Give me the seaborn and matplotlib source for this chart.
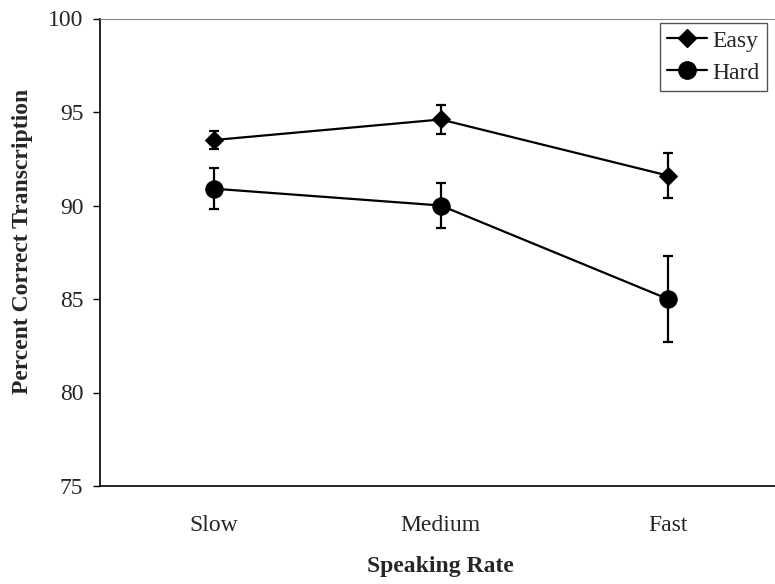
import matplotlib
matplotlib.use("Agg")
import matplotlib.pyplot as plt
from matplotlib.lines import Line2D
import seaborn as sns
import pandas as pd

# Speaking-rate categories and group means with error-bar half widths
rates = ["Slow", "Medium", "Fast"]
easy_mean = [93.5, 94.6, 91.6]
easy_err = [0.5, 0.8, 1.2]
hard_mean = [90.9, 90.0, 85.0]
hard_err = [1.1, 1.2, 2.3]
y_ticks = [75, 80, 85, 90, 95, 100]

sns.set_theme(style="white")
plt.rcParams["font.family"] = ["Liberation Serif", "DejaVu Serif"]

df = pd.DataFrame({
    "rate": rates * 2,
    "pos": list(range(len(rates))) * 2,
    "score": easy_mean + hard_mean,
    "err": easy_err + hard_err,
    "group": ["Easy"] * 3 + ["Hard"] * 3,
})

fig = plt.figure(figsize=(7.75, 5.84), dpi=100)
ax = fig.add_axes([100 / 775, 1 - 486 / 584, (781.5 - 100) / 775, (486 - 18.5) / 584])

markers = {"Easy": "D", "Hard": "o"}
msize = {"Easy": 9.5, "Hard": 12.5}
for name, sub in df.groupby("group", sort=False):
    sns.lineplot(data=sub, x="pos", y="score", color="black", linewidth=1.6,
                 marker=markers[name], markersize=msize[name],
                 markeredgecolor="black", markerfacecolor="black",
                 ax=ax, legend=False)
    ax.errorbar(sub["pos"], sub["score"], yerr=sub["err"], fmt="none",
                ecolor="black", elinewidth=1.6, capsize=3.5, capthick=1.6)

ax.set_xlim(-0.5, 2.5)
ax.set_ylim(75, 100)
ax.set_yticks(y_ticks)
ax.set_yticklabels([str(v) for v in y_ticks], fontsize=17)
ax.set_xticks(range(len(rates)))
ax.set_xticklabels(rates, fontsize=17)
ax.set_xticks([0.5, 1.5, 2.5], minor=True)
ax.tick_params(axis="x", which="major", length=0, pad=21)
ax.tick_params(axis="x", which="minor", length=5, width=1, color="black", direction="out")
ax.tick_params(axis="y", length=5, width=1, color="black", direction="out", left=True, pad=7)

ax.set_xlabel("Speaking Rate", fontsize=17, fontweight="bold", labelpad=14)
ax.set_ylabel("Percent Correct Transcription", fontsize=17, fontweight="bold")
ax.yaxis.set_label_coords(-0.099, 0.524)

for side in ["left", "bottom"]:
    ax.spines[side].set_color("black")
    ax.spines[side].set_linewidth(1.2)
ax.spines["top"].set_color("#888888")
ax.spines["top"].set_linestyle((0, (1.5, 1)))
ax.spines["top"].set_linewidth(0.8)
ax.spines["right"].set_visible(False)

handles = [
    Line2D([], [], color="black", lw=1.6, marker="D", markersize=9.5, label="Easy"),
    Line2D([], [], color="black", lw=1.6, marker="o", markersize=12.5, label="Hard"),
]
leg = fig.legend(handles=handles, loc="upper right", bbox_to_anchor=(767 / 775, 1 - 23 / 584),
                 fontsize=17, frameon=True, fancybox=False, framealpha=1,
                 edgecolor="#555555", handlelength=1.7, handletextpad=0.25,
                 borderpad=0.3, labelspacing=0.45, borderaxespad=0)
leg.get_frame().set_linewidth(1.0)

fig.savefig("out.png", dpi=100)
